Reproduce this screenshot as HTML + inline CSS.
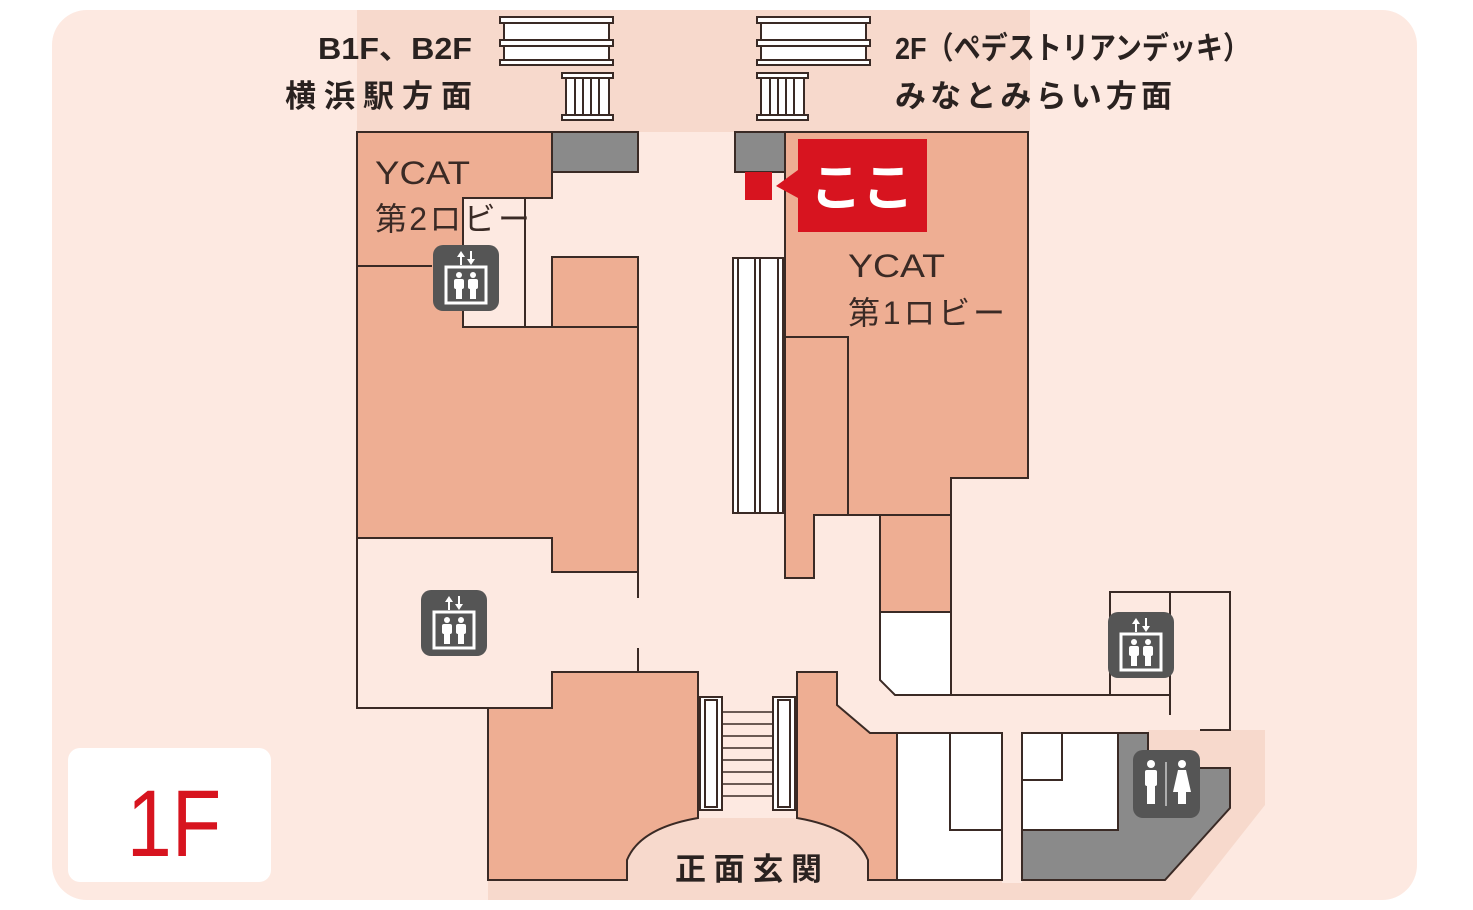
<!DOCTYPE html>
<html><head><meta charset="utf-8"><style>
html,body{margin:0;padding:0;background:#fff;}
svg{display:block;}
text{font-family:"Liberation Sans","Noto Sans CJK JP",sans-serif;}
</style></head><body>
<svg width="1473" height="910" viewBox="0 0 1473 910" xmlns="http://www.w3.org/2000/svg">
<defs>
<g id="elev">
  <rect x="0" y="0" width="66" height="66" rx="10" fill="#555"/>
  <rect x="13" y="22" width="40" height="36" fill="none" stroke="#fff" stroke-width="3"/>
  <path d="M28 6 L24 12 L27 12 L27 20 L29 20 L29 12 L32 12 Z" fill="#fff"/>
  <path d="M38 20 L34 14 L37 14 L37 6 L39 6 L39 14 L42 14 Z" fill="#fff"/>
  <circle cx="26" cy="30" r="3" fill="#fff"/><rect x="21" y="34" width="10" height="10" rx="2" fill="#fff"/><rect x="23" y="44" width="6" height="10" fill="#fff"/>
  <circle cx="40" cy="30" r="3" fill="#fff"/><rect x="35" y="34" width="10" height="10" rx="2" fill="#fff"/><rect x="37" y="44" width="6" height="10" fill="#fff"/>
</g>
</defs>
<rect x="52" y="10" width="1365" height="890" rx="35" fill="#fde9e1"/>
<rect x="357" y="10" width="673" height="122" fill="#f7d9cc"/>
<rect x="488" y="818" width="702" height="82" fill="#f7d9cc"/>
<polygon points="1148,730 1265,730 1265,805 1190,900 1148,900" fill="#f7d9cc"/>
<rect x="1002" y="733" width="20" height="150" fill="#fde9e1"/>

<g stroke="#3a2a25" stroke-width="2">
<g fill="#fff">
<rect x="500" y="17" width="113" height="6"/><rect x="504" y="23" width="105" height="17"/><rect x="500" y="40" width="113" height="6"/><rect x="504" y="46" width="105" height="14"/><rect x="500" y="60" width="113" height="5"/>
<rect x="757" y="17" width="113" height="6"/><rect x="761" y="23" width="105" height="17"/><rect x="757" y="40" width="113" height="6"/><rect x="761" y="46" width="105" height="14"/><rect x="757" y="60" width="113" height="5"/>
<rect x="562" y="73" width="51" height="5"/><rect x="566" y="78" width="43" height="37"/><rect x="562" y="115" width="51" height="5"/>
<rect x="757" y="73" width="51" height="5"/><rect x="761" y="78" width="43" height="37"/><rect x="757" y="115" width="51" height="5"/>
</g>
<path d="M575 78V115M583 78V115M591 78V115M599 78V115M770 78V115M778 78V115M786 78V115M794 78V115" fill="none"/>

<polygon points="357,132 552,132 552,198 463,198 463,327 638,327 638,572 552,572 552,538 357,538" fill="#eeae93"/>
<polyline points="357,132 552,132 552,198 463,198 463,327 638,327 638,572" fill="none"/>
<rect x="552" y="132" width="86" height="40" fill="#8a8a8a"/>
<rect x="552" y="257" width="86" height="70" fill="#eeae93"/>
<path d="M525 198V327M357 266H432M357 538H552V572M638 572V598M638 648V672" fill="none"/>
<polyline points="357,132 357,708 488,708" fill="none"/>

<path d="M552 672H698V818Q640 828 627 860V880H488V708H552Z" fill="#eeae93"/>
<g fill="#fff">
<rect x="700" y="697" width="22" height="113"/><rect x="705" y="700" width="12" height="107"/>
<rect x="773" y="697" width="22" height="113"/><rect x="778" y="700" width="12" height="107"/>
</g>
<path d="M722 712H773M722 724H773M722 736H773M722 748H773M722 760H773M722 772H773M722 784H773M722 796H773" fill="none" stroke-width="1.5"/>
<path d="M797 672H837V705L870 733H897V880H868V860Q855 828 797 818Z" fill="#eeae93"/>

<rect x="733" y="258" width="50" height="255" fill="#fff"/>
<path d="M738 258V513M755 258V513M760 258V513M778 258V513" fill="none"/>
<rect x="735" y="132" width="50" height="40" fill="#8a8a8a"/>

<polygon points="785,132 1028,132 1028,478 951,478 951,515 848,515 848,337 785,337" fill="#eeae93"/>
<polygon points="785,337 848,337 848,515 814,515 814,578 785,578" fill="#eeae93"/>
<rect x="880" y="515" width="71" height="97" fill="#eeae93"/>
<path d="M880 612H951V695H895L880 680Z" fill="#fff"/>
<path d="M951 695H1170M1110 695V592H1230V730H1200M1170 592V715" fill="none"/>

<rect x="897" y="733" width="105" height="147" fill="#fff"/>
<path d="M950 733V830H1002" fill="none"/>
<polygon points="1022,733 1118,733 1118,830 1022,830" fill="#fff"/>
<path d="M1062 733V780H1022" fill="none"/>
<polygon points="1118,733 1148,733 1148,768 1230,768 1230,808 1165,880 1022,880 1022,830 1118,830" fill="#8a8a8a"/>
</g>

<rect x="745" y="172" width="27" height="28" fill="#d7141f"/>
<rect x="798" y="139" width="129" height="93" fill="#d7141f"/>
<polygon points="798,170 776,186 798,198" fill="#d7141f"/>
<text x="862" y="206" font-size="52" font-weight="bold" fill="#fff" text-anchor="middle">ここ</text>

<use href="#elev" x="433" y="245"/>
<use href="#elev" x="421" y="590"/>
<use href="#elev" x="1108" y="612"/>
<g>
<rect x="1133" y="750" width="67" height="68" rx="10" fill="#555"/>
<circle cx="1151" cy="764" r="4" fill="#fff"/><rect x="1145" y="770" width="12" height="16" rx="2" fill="#fff"/><rect x="1147" y="786" width="8" height="18" fill="#fff"/>
<line x1="1166" y1="762" x2="1166" y2="806" stroke="#ccc" stroke-width="1.5"/>
<circle cx="1182" cy="764" r="4" fill="#fff"/><polygon points="1178,770 1186,770 1191,792 1173,792" fill="#fff"/><rect x="1178" y="792" width="8" height="12" fill="#fff"/>
</g>

<g fill="#2a2220" font-weight="bold" font-size="31">
<text x="318" y="59" textLength="154" lengthAdjust="spacingAndGlyphs">B1F、B2F</text>
<text x="285" y="107" textLength="187" lengthAdjust="spacing">横浜駅方面</text>
<text x="895" y="59" textLength="355" lengthAdjust="spacingAndGlyphs">2F（ペデストリアンデッキ）</text>
<text x="895" y="107" textLength="277" lengthAdjust="spacing">みなとみらい方面</text>
<text x="675" y="880" textLength="147" lengthAdjust="spacing">正面玄関</text>
</g>
<g fill="#3a2a25" font-size="32">
<text x="375" y="184" textLength="95" lengthAdjust="spacingAndGlyphs">YCAT</text>
<text x="375" y="230" textLength="155" lengthAdjust="spacing">第2ロビー</text>
<text x="848" y="277" textLength="97" lengthAdjust="spacingAndGlyphs">YCAT</text>
<text x="848" y="324" textLength="157" lengthAdjust="spacing">第1ロビー</text>
</g>

<rect x="68" y="748" width="203" height="134" rx="12" fill="#fff"/>
<text x="0" y="0" font-size="90" fill="#d7141f" text-anchor="middle" transform="translate(174,856) scale(0.9,1.05)">1F</text>
</svg>
</body></html>
